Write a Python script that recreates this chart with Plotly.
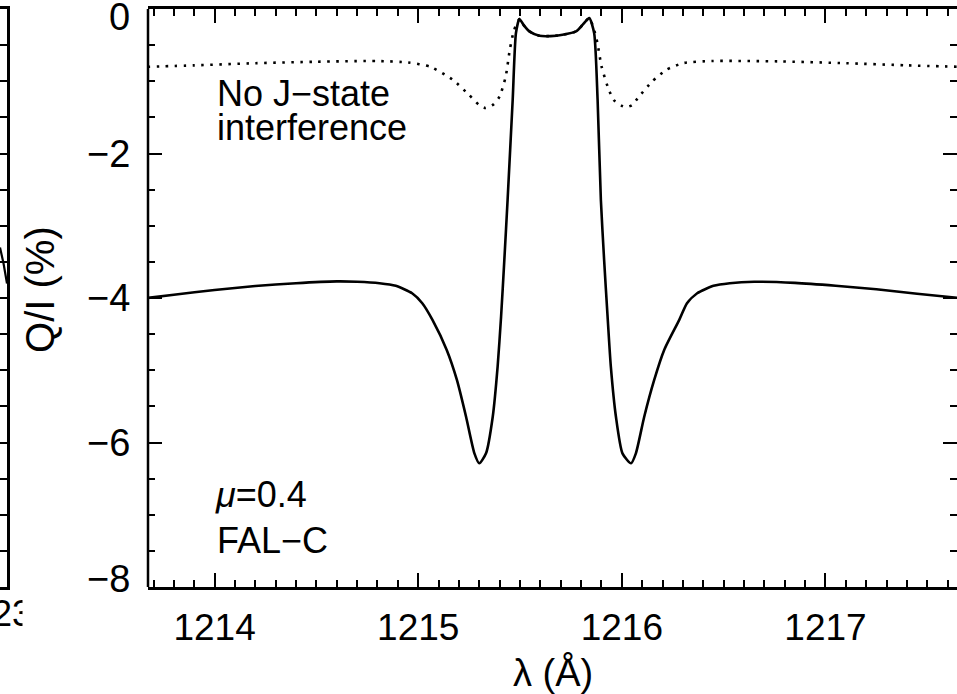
import plotly.graph_objects as go

# ---------------- data ----------------
wl_solid = [1213.67, 1213.80, 1214.00, 1214.20, 1214.40, 1214.60, 1214.70, 1214.81,
            1214.89, 1214.97, 1215.02, 1215.07, 1215.14, 1215.19, 1215.235, 1215.276,
            1215.30, 1215.333, 1215.366, 1215.39, 1215.407, 1215.423, 1215.439, 1215.464,
            1215.48, 1215.497, 1215.52, 1215.546, 1215.595, 1215.65, 1215.709, 1215.775,
            1215.807, 1215.84, 1215.864, 1215.881, 1215.897, 1215.913, 1215.93, 1215.946,
            1215.971, 1216.003, 1216.045, 1216.069, 1216.11, 1216.159, 1216.208, 1216.282,
            1216.32, 1216.37, 1216.45, 1216.53, 1216.65, 1216.85, 1217.05, 1217.25,
            1217.45, 1217.66]
q_solid = [-4.00, -3.955, -3.89, -3.835, -3.795, -3.77, -3.775, -3.795,
           -3.832, -3.934, -4.072, -4.303, -4.719, -5.134, -5.643, -6.150,
           -6.288, -6.150, -5.643, -4.950, -4.258, -3.472, -2.641, -1.256,
           -0.333, -0.14, -0.23, -0.31, -0.37, -0.375, -0.356, -0.31,
           -0.22, -0.125, -0.333, -1.256, -2.641, -3.472, -4.258, -4.95,
           -5.643, -6.15, -6.288, -6.15, -5.643, -5.134, -4.719, -4.303,
           -4.072, -3.934, -3.832, -3.795, -3.775, -3.79, -3.83, -3.88,
           -3.94, -4.00]

wl_dot = [1213.67, 1213.90, 1214.20, 1214.50, 1214.80, 1214.95, 1215.06, 1215.17,
          1215.25, 1215.30, 1215.33, 1215.37, 1215.40, 1215.43, 1215.45, 1215.47,
          1215.497, 1215.52, 1215.546, 1215.595, 1215.65, 1215.709, 1215.775, 1215.807,
          1215.84, 1215.865, 1215.88, 1215.90, 1215.93, 1215.96, 1216.00, 1216.02,
          1216.05, 1216.085, 1216.15, 1216.22, 1216.30, 1216.44, 1216.77, 1217.10,
          1217.40, 1217.66]
q_dot = [-0.80, -0.78, -0.75, -0.73, -0.72, -0.74, -0.80, -0.98,
         -1.19, -1.33, -1.37, -1.32, -1.21, -0.93, -0.56, -0.30,
         -0.14, -0.23, -0.31, -0.37, -0.375, -0.356, -0.31, -0.22,
         -0.125, -0.30, -0.47, -0.79, -1.07, -1.26, -1.34, -1.36,
         -1.33, -1.21, -1.00, -0.84, -0.75, -0.72, -0.725, -0.75,
         -0.78, -0.80]

# fragment of the neighbouring panel visible at the left edge
nb_x = [0.0, 0.5, 1.0]
nb_q = [-3.30, -3.52, -3.80]

x_range = [1213.673, 1217.646]
y_range = [-8, 0]
x_ticks = [1214, 1215, 1216, 1217]
y_ticks = [0, -2, -4, -6, -8]
y_tick_text = ["0", "\u22122", "\u22124", "\u22126", "\u22128"]
nb_label = "23"

FONT = "Liberation Sans, Arial, Helvetica, sans-serif"
W, H = 957, 694
L_AX = 148.0

fig = go.Figure()
fig.add_trace(go.Scatter(x=wl_dot, y=q_dot, mode="lines",
                         line=dict(color="black", width=2.6, dash="2.5px,6.5px",
                                   shape="spline", smoothing=0.6),
                         hoverinfo="skip"))
fig.add_trace(go.Scatter(x=wl_solid, y=q_solid, mode="lines",
                         line=dict(color="black", width=2.6, shape="spline", smoothing=0.6),
                         hoverinfo="skip"))
fig.add_trace(go.Scatter(x=nb_x, y=nb_q, xaxis="x2", yaxis="y2", mode="lines",
                         line=dict(color="black", width=2.2), hoverinfo="skip"))

axis_common = dict(showgrid=False, zeroline=False, ticks="inside", tickcolor="black",
                   tickwidth=2)

fig.update_layout(
    width=W, height=H,
    margin=dict(l=0, r=0, t=9, b=107),
    plot_bgcolor="white", paper_bgcolor="white", showlegend=False,
    font=dict(family=FONT, size=36, color="black"),
    xaxis=dict(domain=[L_AX / W, 1], range=x_range, tickvals=x_ticks,
               ticklen=14, showline=True, linewidth=2.5, linecolor="black",
               mirror="allticks", tickfont=dict(size=37, family=FONT),
               ticklabelstandoff=6,
               minor=dict(dtick=0.1, tick0=1214, ticks="inside", ticklen=7,
                          tickwidth=2, tickcolor="black"),
               **axis_common),
    yaxis=dict(domain=[0, 1], range=y_range, tickvals=y_ticks, showticklabels=False,
               ticklen=14, showline=False, mirror="ticks",
               minor=dict(dtick=0.5, tick0=0, ticks="inside", ticklen=7,
                          tickwidth=2, tickcolor="black"),
               **axis_common),
    # neighbouring panel (only its right edge is visible)
    xaxis2=dict(domain=[0, 7.0 / W], range=[0, 1], anchor="y2", showline=True,
                linewidth=2.5, linecolor="black", mirror=True, ticks="",
                showticklabels=False, showgrid=False, zeroline=False),
    yaxis2=dict(domain=[0, 1], range=y_range, anchor="x2", side="right",
                tickvals=y_ticks, showticklabels=False, ticklen=14, showline=True,
                linewidth=2.5, linecolor="black",
                minor=dict(dtick=0.5, tick0=0, ticks="inside", ticklen=7,
                           tickwidth=2, tickcolor="black"),
                **axis_common),
)

# left frame line of the main panel
fig.add_shape(type="line", xref="x domain", yref="y domain", x0=0, x1=0, y0=0, y1=1,
              line=dict(color="black", width=2.5))

# y tick labels
for v, t in zip(y_ticks, y_tick_text):
    shift = -8 if v == y_range[1] else (8 if v == y_range[0] else 0)
    fig.add_annotation(x=0, xref="x domain", y=v, yref="y", text=t, showarrow=False,
                       xanchor="right", yanchor="middle", xshift=-16, yshift=shift,
                       font=dict(size=38, family=FONT))

# partial tick label of the neighbouring panel (cut by the main panel on its right)
fig.add_annotation(x=-10 / W, xref="paper", y=-0.045, yref="paper", text=nb_label,
                   showarrow=False, xanchor="left", yanchor="middle",
                   font=dict(size=36, family=FONT))
fig.add_annotation(x=22 / W, xref="paper", y=-0.045, yref="paper", text=" ",
                   showarrow=False, xanchor="left", yanchor="middle",
                   width=30, height=44, bgcolor="white", borderpad=0)

# axis titles
fig.add_annotation(x=0.5, xref="x domain", y=-0.148, yref="paper", text="\u03bb (\u00c5)",
                   showarrow=False, xanchor="center", yanchor="middle",
                   font=dict(size=38, family=FONT))
fig.add_annotation(x=40 / W, xref="paper", y=0.514, yref="paper", text="Q/I (%)",
                   textangle=-90, showarrow=False, xanchor="center", yanchor="middle",
                   font=dict(size=40, family=FONT))

# in-plot labels
fig.add_annotation(x=1214.0, y=-1.17, text="No J\u2212state", showarrow=False,
                   xanchor="left", yanchor="middle", font=dict(size=36, family=FONT))
fig.add_annotation(x=1214.0, y=-1.64, text="interference", showarrow=False,
                   xanchor="left", yanchor="middle", font=dict(size=36, family=FONT))
fig.add_annotation(x=1213.99, y=-6.72, text="<i>\u03bc</i>=0.4", showarrow=False,
                   xanchor="left", yanchor="middle", font=dict(size=36, family=FONT))
fig.add_annotation(x=1214.0, y=-7.35, text="FAL\u2212C", showarrow=False,
                   xanchor="left", yanchor="middle", font=dict(size=36, family=FONT))

fig.write_html("out.html")
